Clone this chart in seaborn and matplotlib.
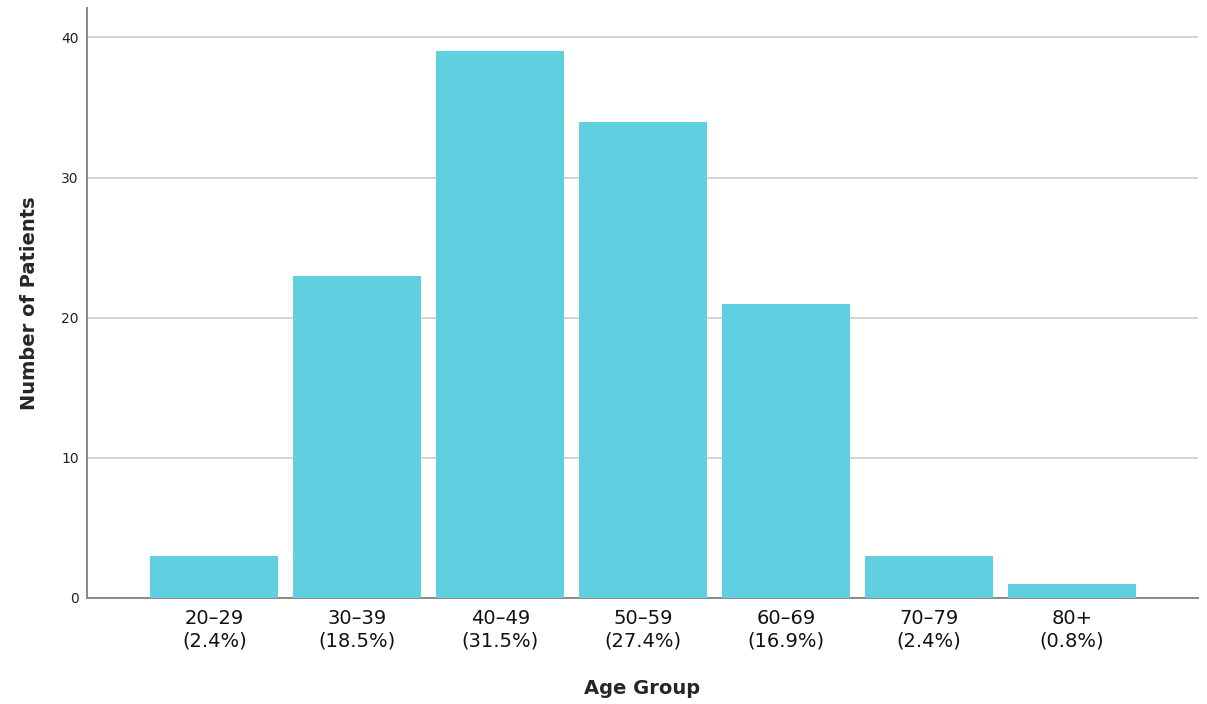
import pandas as pd
import seaborn as sns
import matplotlib.pyplot as plt

# data
age_groups = ["20\u201329", "30\u201339", "40\u201349", "50\u201359", "60\u201369", "70\u201379", "80+"]
patients = [3, 23, 39, 34, 21, 3, 1]
percents = ["2.4%", "18.5%", "31.5%", "27.4%", "16.9%", "2.4%", "0.8%"]

BAR_COLOR = "#60d0e0"


def run():
    df = pd.DataFrame({"age_group": age_groups, "patients": patients})

    sns.set_style("white")
    plt.rcParams["font.family"] = ["DejaVu Sans"]

    f = plt.figure(figsize=(12.07, 7.04), dpi=100)
    ax = f.add_axes([0.0721, 0.1506, 0.9204, 0.838])

    sns.barplot(data=df, x="age_group", y="patients", color=BAR_COLOR,
                saturation=1, width=0.895, linewidth=0, ax=ax, zorder=3)

    ax.set_ylim(0, 42.1)
    ax.set_xlim(-0.89, 6.88)
    ax.set_yticks([0, 10, 20, 30, 40])
    ax.yaxis.grid(True, color="#cccccc", lw=1.2, zorder=0)
    ax.set_axisbelow(True)

    labels = [f"{g}\n({p})" for g, p in zip(age_groups, percents)]
    ax.set_xticks(range(len(labels)))
    ax.set_xticklabels(labels, fontsize=14, color="#111111", linespacing=1.25)
    ax.tick_params(axis="y", labelsize=10, colors="#222222", length=0, pad=6)
    ax.tick_params(axis="x", length=0, pad=8)

    ax.set_xlabel("Age Group", fontsize=14, fontweight="bold", labelpad=20)
    ax.set_ylabel("Number of Patients", fontsize=14, fontweight="bold", labelpad=16)

    for side in ["top", "right"]:
        ax.spines[side].set_visible(False)
    for side in ["left", "bottom"]:
        ax.spines[side].set_color("#888888")
        ax.spines[side].set_linewidth(1.4)

    f.savefig("out.png", dpi=100)


if __name__ == "__main__":
    run()
